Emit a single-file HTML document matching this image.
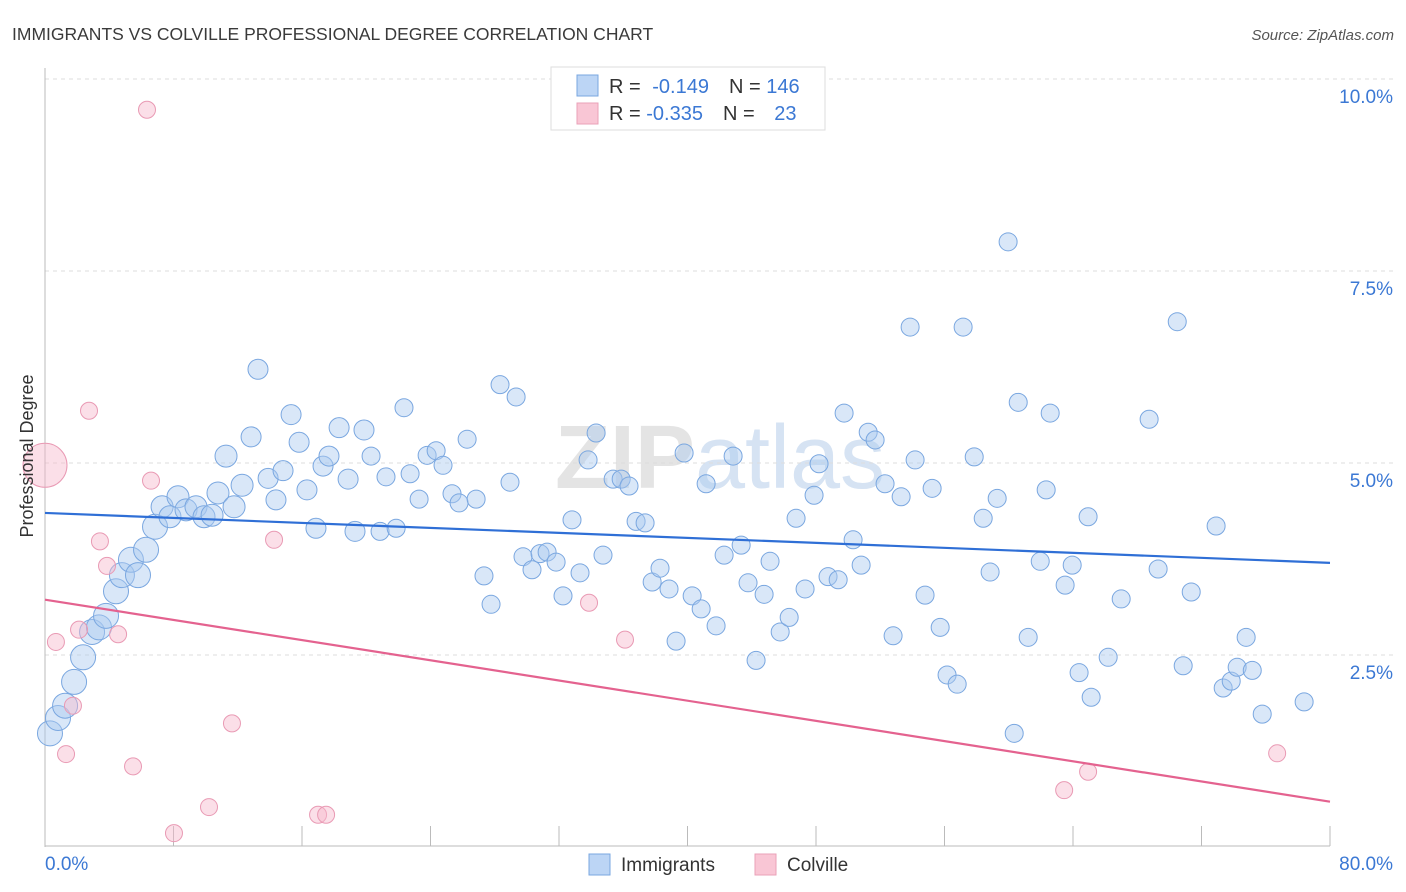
<!DOCTYPE html>
<html><head><meta charset="utf-8"><style>
body{margin:0;background:#fff;font-family:"Liberation Sans",sans-serif;}
svg{display:block}
</style></head><body>
<svg id="chart" width="1406" height="892" viewBox="0 0 1406 892" xmlns="http://www.w3.org/2000/svg">
<text x="12" y="40" font-size="17.5" fill="#3a3a3a">IMMIGRANTS VS COLVILLE PROFESSIONAL DEGREE CORRELATION CHART</text>
<text x="1394" y="40" font-size="15" fill="#555" text-anchor="end" font-style="italic">Source: ZipAtlas.com</text>
<text x="720" y="488" font-size="90" fill="#e4e4e4" text-anchor="middle" font-weight="bold">ZIP<tspan fill="#d6e3f3" font-weight="normal">atlas</tspan></text>
<g id="grid"></g>
<g id="axes"></g>
<g id="points"></g>
<g id="trends"></g>
<text transform="translate(33,456) rotate(-90)" font-size="18" fill="#333" text-anchor="middle">Professional Degree</text>
<g>
<rect x="551" y="67" width="274" height="63" fill="#fff" stroke="#ddd"/>
<rect x="577" y="75" width="21" height="21" fill="#bcd5f5" stroke="#7aa7e0"/>
<rect x="577" y="103" width="21" height="21" fill="#f9c6d5" stroke="#eaa1b8"/>
<text x="609" y="93" font-size="20" fill="#333">R = <tspan fill="#3b78d4" dx="6">-0.149</tspan><tspan dx="20">N = </tspan><tspan fill="#3b78d4">146</tspan></text>
<text x="609" y="120" font-size="20" fill="#333">R = <tspan fill="#3b78d4">-0.335</tspan><tspan dx="20">N = </tspan><tspan fill="#3b78d4" dx="14">23</tspan></text>
</g>
<g>
<rect x="589" y="854" width="21" height="21" fill="#bcd5f5" stroke="#7aa7e0"/>
<text x="621" y="871" font-size="19" fill="#333">Immigrants</text>
</g>
<g>
<rect x="755" y="854" width="21" height="21" fill="#f9c6d5" stroke="#eaa1b8"/>
<text x="787" y="871" font-size="19" fill="#333">Colville</text>
</g>
</svg>
<script>
const yTicks=[2.5,5.0,7.5,10.0];
const xTickLabels=["0.0%","80.0%"];
const blueX=[.31,.81,1.25,1.81,2.37,2.93,3.36,3.80,4.42,4.79,5.35,5.79,6.29,6.85,7.29,7.78,8.28,8.78,9.40,9.90,10.40,10.77,11.27,11.77,12.27,12.83,13.26,13.89,14.38,14.82,15.32,15.82,16.31,16.87,17.31,17.68,18.31,18.87,19.30,19.86,20.30,20.86,21.23,21.86,22.35,22.73,23.29,23.79,24.35,24.78,25.34,25.78,26.28,26.84,27.33,27.77,28.33,28.95,29.33,29.76,30.32,30.82,31.26,31.82,32.25,32.81,33.31,33.81,34.31,34.74,35.37,35.87,36.36,36.80,37.36,37.80,38.29,38.85,39.29,39.79,40.29,40.85,41.16,41.78,42.28,42.84,43.34,43.77,44.27,44.77,45.14,45.77,46.33,46.76,47.32,47.88,48.19,48.75,49.38,49.75,50.31,50.81,51.25,51.68,52.30,52.80,53.30,53.86,54.17,54.79,55.23,55.73,56.16,56.79,57.16,57.85,58.41,58.84,59.28,59.96,60.34,60.59,61.21,61.96,62.33,62.58,63.51,63.95,64.38,64.94,65.13,66.19,67.00,68.74,69.30,70.49,70.86,71.36,72.91,73.35,73.85,74.22,74.78,75.16,75.78,78.39];
const blueY=[1.48,1.68,1.84,2.15,2.47,2.80,2.86,3.01,3.33,3.54,3.74,3.54,3.87,4.17,4.43,4.30,4.56,4.39,4.43,4.30,4.32,4.61,5.09,4.43,4.71,5.34,6.22,4.80,4.52,4.90,5.63,5.27,4.65,4.15,4.96,5.09,5.46,4.79,4.11,5.43,5.09,4.11,4.82,4.15,5.72,4.86,4.53,5.10,5.16,4.97,4.60,4.48,5.31,4.53,3.53,3.16,6.02,4.75,5.86,3.78,3.61,3.82,3.84,3.71,3.27,4.26,3.57,5.04,5.39,3.80,4.79,4.79,4.70,4.24,4.22,3.45,3.63,3.36,2.68,5.13,3.27,3.10,4.73,2.88,3.80,5.09,3.93,3.44,2.43,3.29,3.72,2.80,2.99,4.28,3.36,4.58,4.99,3.52,3.48,5.65,4.00,3.67,5.40,5.30,4.73,2.75,4.56,6.77,5.04,3.28,4.67,2.86,2.24,2.12,6.77,5.08,4.28,3.58,4.54,7.88,1.48,5.79,2.73,3.72,4.65,5.65,3.41,3.67,2.27,4.30,1.95,2.47,3.23,5.57,3.62,6.84,2.36,3.32,4.18,2.07,2.16,2.34,2.73,2.30,1.73,1.89];
const pinkX=[6.35,2.74,6.60,3.42,3.86,2.12,.68,4.55,1.74,1.31,5.48,8.03,10.21,11.64,14.26,17.00,17.50,33.87,36.11,63.45,64.94,76.71,0];
const pinkY=[9.60,5.68,4.77,3.98,3.66,2.83,2.67,2.77,1.84,1.21,1.05,.18,.52,1.61,4.00,.42,.42,3.18,2.70,.74,.98,1.22,4.97];
const blueTrend=[4.35,3.70];
const pinkTrend=[3.22,0.59];

const X0=45,X1=1330,Y0=847,Y10=79;
const xs=v=>X0+v/80*(X1-X0);
const ys=v=>Y0-v/10*(Y0-Y10);
const NS="http://www.w3.org/2000/svg";
function mk(tag,attrs,parent){const e=document.createElementNS(NS,tag);for(const k in attrs)e.setAttribute(k,attrs[k]);parent.appendChild(e);return e;}
const grid=document.getElementById('grid'),axes=document.getElementById('axes'),pts=document.getElementById('points'),tr=document.getElementById('trends');
yTicks.forEach(t=>{
 const l=mk('line',{x1:X0,x2:1394,y1:ys(t),y2:ys(t),stroke:'#ddd','stroke-dasharray':'4,4'},grid);
 
 
 const tx=mk('text',{x:1393,y:ys(t)+24,'font-size':19,fill:'#3b78d4','text-anchor':'end'},grid);
 tx.textContent=t.toFixed(1)+'%';
 
 
});
const ax=mk('line',{x1:X0,x2:X0,y1:68,y2:Y0,stroke:'#bbb'},axes);


const bx=mk('line',{x1:X0,x2:X1,y1:Y0-1,y2:Y0-1,stroke:'#bbb'},axes);


for(let i=1;i<=10;i++){
 const t=mk('line',{x1:xs(i*8),x2:xs(i*8),y1:826,y2:846,stroke:'#bbb'},axes);
 
 
}
xTickLabels.forEach((s,i)=>{
 const t=mk('text',{x:i?1393:45,y:870,'font-size':19,fill:'#3b78d4','text-anchor':i?'end':'start'},axes);
 t.textContent=s;
 
 
});
blueX.forEach((v,i)=>{
 const r=i<14?12.5:i<25?11:i<40?10:9;
 const c=mk('circle',{cx:xs(v),cy:ys(blueY[i]),r:r,fill:'rgba(170,202,240,0.45)',stroke:'#7aa7e0','stroke-width':1},pts);
 
 
});
pinkX.forEach((v,i)=>{
 const r=i===pinkX.length-1?22:8.5;
 const c=mk('circle',{cx:xs(v),cy:ys(pinkY[i]),r:r,fill:'rgba(247,185,205,0.45)',stroke:'#e99ab4','stroke-width':1},pts);
 
 
});
const bl=mk('line',{x1:xs(0),x2:xs(80),y1:ys(blueTrend[0]),y2:ys(blueTrend[1]),stroke:'#2f6fd6','stroke-width':2.2},tr);


const pl=mk('line',{x1:xs(0),x2:xs(80),y1:ys(pinkTrend[0]),y2:ys(pinkTrend[1]),stroke:'#e4628f','stroke-width':2.2},tr);


</script>
</body></html>
